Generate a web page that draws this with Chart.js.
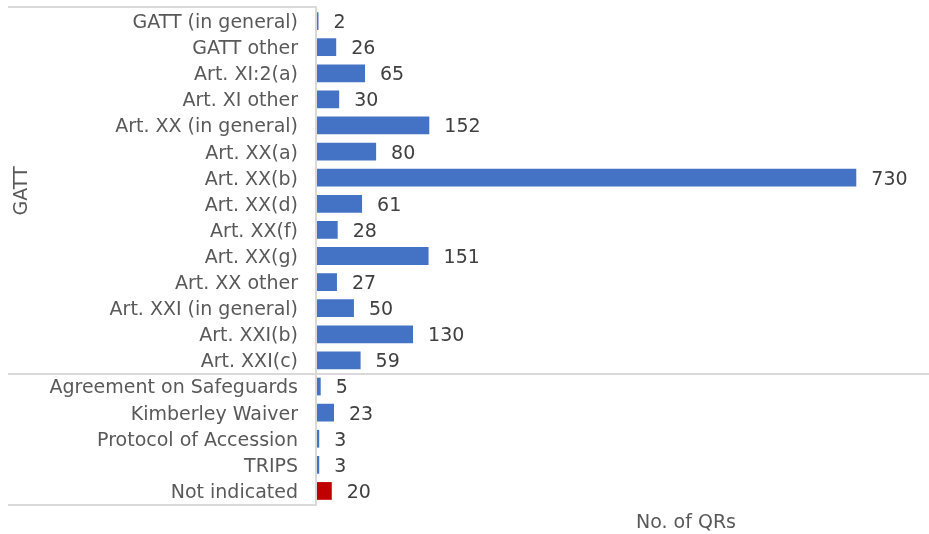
<!DOCTYPE html>
<html>
<head>
<meta charset="utf-8">
<script src="https://cdn.jsdelivr.net/npm/chart.js@4"></script>
<style>
  html, body { margin: 0; padding: 0; background: #fff; }
  #wrap { width: 929px; height: 534px; position: relative; }
</style>
</head>
<body>
<div id="wrap"><canvas id="qr-chart"></canvas></div>
<script>
let categories = [
  'GATT (in general)', 'GATT other', 'Art. XI:2(a)', 'Art. XI other',
  'Art. XX (in general)', 'Art. XX(a)', 'Art. XX(b)', 'Art. XX(d)',
  'Art. XX(f)', 'Art. XX(g)', 'Art. XX other', 'Art. XXI (in general)',
  'Art. XXI(b)', 'Art. XXI(c)',
  'Agreement on Safeguards', 'Kimberley Waiver', 'Protocol of Accession',
  'TRIPS', 'Not indicated'
];
let counts = [2, 26, 65, 30, 152, 80, 730, 61, 28, 151, 27, 50, 130, 59, 5, 23, 3, 3, 20];
let gattCount = 14; // first 14 rows belong to the GATT group
let groupLabel = 'GATT';
let axisTitle = 'No. of QRs';

let barColors = counts.map((v, i) => i == categories.length - 1 ? '#C00000' : '#4472C4');
let lineColor = '#d9d9d9';
let font = '"DejaVu Sans", Verdana, sans-serif';

// value labels, group label and the table-like lines on the left
let decorations = {
  id: 'decorations',
  afterDatasetsDraw(chart) {
    let ctx = chart.ctx;
    let area = chart.chartArea;
    let y = chart.scales.y;
    let meta = chart.getDatasetMeta(0);

    ctx.save();
    ctx.font = '19px ' + font;
    ctx.fillStyle = '#404040';
    ctx.textAlign = 'left';
    ctx.textBaseline = 'middle';
    meta.data.forEach((bar, i) => {
      ctx.fillText(String(counts[i]), bar.x + 15, bar.y + 2);
    });

    // lines
    let sepY = Math.round((y.getPixelForValue(gattCount - 1) + y.getPixelForValue(gattCount)) / 2) + 1;
    ctx.strokeStyle = lineColor;
    ctx.lineWidth = 2;
    ctx.beginPath();
    ctx.moveTo(8, area.top - 1); ctx.lineTo(area.left, area.top - 1);
    ctx.moveTo(8, area.bottom + 1); ctx.lineTo(area.left, area.bottom + 1);
    ctx.moveTo(8, sepY); ctx.lineTo(chart.width, sepY);
    ctx.moveTo(area.left - 1, area.top - 1); ctx.lineTo(area.left - 1, area.bottom + 1);
    ctx.stroke();

    // rotated group label
    ctx.fillStyle = '#595959';
    ctx.textAlign = 'center';
    ctx.translate(22, (area.top + sepY) / 2);
    ctx.rotate(-Math.PI / 2);
    ctx.fillText(groupLabel, 0, 0);
    ctx.restore();

    // axis title
    ctx.save();
    ctx.font = '19px ' + font;
    ctx.fillStyle = '#595959';
    ctx.textAlign = 'center';
    ctx.textBaseline = 'middle';
    ctx.fillText(axisTitle, 686, 523);
    ctx.restore();
  }
};

new Chart(document.getElementById('qr-chart'), {
  type: 'bar',
  data: {
    labels: categories,
    datasets: [{
      data: counts,
      backgroundColor: barColors,
      borderWidth: 0,
      categoryPercentage: 1,
      barPercentage: 0.68,
    }],
  },
  options: {
    indexAxis: 'y',
    responsive: true,
    maintainAspectRatio: false,
    animation: false,
    layout: { padding: { top: 8, right: 21, bottom: 30, left: 0 } },
    plugins: {
      legend: { display: false },
      tooltip: { enabled: false },
    },
    scales: {
      x: {
        display: false,
        min: 0,
        max: 800,
      },
      y: {
        afterFit(scale) {
          scale.width = 317;
          scale.paddingTop = 0;
          scale.paddingBottom = 0;
        },
        grid: { display: false, drawTicks: false },
        border: { display: false },
        ticks: {
          padding: 19,
          labelOffset: 2,
          color: '#595959',
          font: { family: font, size: 19 },
          autoSkip: false,
        },
      },
    },
  },
  plugins: [decorations],
});
</script>
</body>
</html>
